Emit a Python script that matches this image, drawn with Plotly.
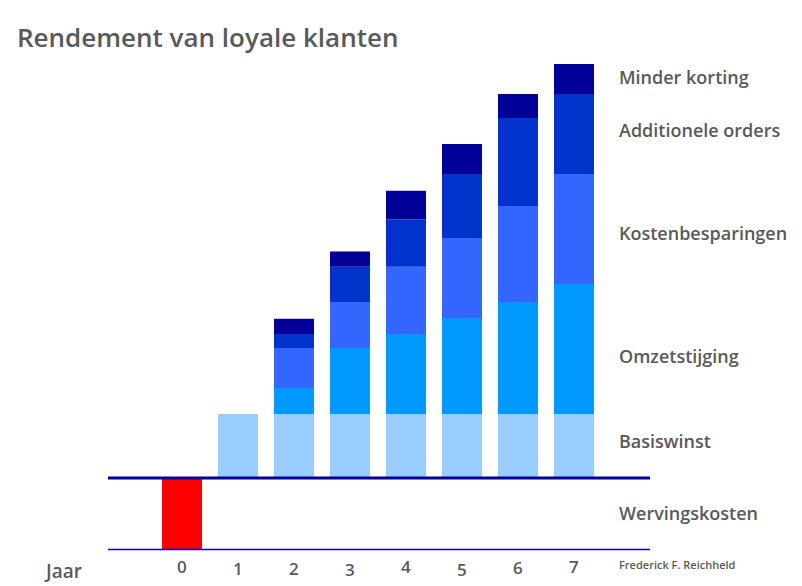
import plotly.graph_objects as go

# Data (arbitrary profit units per year)
jaren = [0, 1, 2, 3, 4, 5, 6, 7]
tick_labels = ["0", "1", "2", "3", "4", "5", "6", "7"]
wervingskosten = [-9, 0, 0, 0, 0, 0, 0, 0]
basiswinst = [0, 8, 8, 8, 8, 8, 8, 8]
omzetstijging = [0, 0, 3.25, 8.25, 10, 12, 14, 16.25]
kostenbesparingen = [0, 0, 5, 5.75, 8.4, 10, 12, 13.75]
additionele_orders = [0, 0, 1.75, 4.4, 5.9, 8, 11, 10]
minder_korting = [0, 0, 1.9, 1.9, 3.6, 3.75, 3, 3.75]

series = [
    ("Wervingskosten", wervingskosten, "#FF0000"),
    ("Basiswinst", basiswinst, "#99CCFF"),
    ("Omzetstijging", omzetstijging, "#0099FF"),
    ("Kostenbesparingen", kostenbesparingen, "#3366FF"),
    ("Additionele orders", additionele_orders, "#0033CC"),
    ("Minder korting", minder_korting, "#000099"),
]

label_y = {
    "Minder korting": 50.1,
    "Additionele orders": 43.5,
    "Kostenbesparingen": 30.6,
    "Omzetstijging": 15.2,
    "Basiswinst": 4.6,
    "Wervingskosten": -4.4,
}
# vertical pixel centres of the (staggered) year labels
tick_py = [566, 568.5, 568, 569, 566, 569, 567, 566]

TXT = "#595959"
FONT = "Open Sans"

PL, PR, PT, PB = 108, 152, 60, 36
PW, PH = 802 - PL - PR, 586 - PT - PB


def px(x):
    return (x - PL) / PW


def py(y):
    return (586 - PB - y) / PH


fig = go.Figure()
for name, vals, col in series:
    fig.add_trace(go.Bar(x=jaren, y=vals, name=name, marker=dict(color=col, line=dict(width=0)),
                         width=0.714, showlegend=False))

fig.update_layout(
    barmode="relative",
    width=802, height=586,
    margin=dict(l=PL, r=PR, t=PT, b=PB),
    paper_bgcolor="white", plot_bgcolor="white",
    xaxis=dict(range=[-1.321, 8.357], showticklabels=False, showgrid=False, zeroline=False,
               showline=False, ticks=""),
    yaxis=dict(range=[-9, 52.25], showticklabels=False, showgrid=False, zeroline=False,
               showline=False, ticks=""),
    font=dict(family=FONT, color=TXT),
)

fig.add_shape(type="line", xref="paper", yref="y", x0=0, x1=1, y0=0, y1=0,
              line=dict(color="#0000A0", width=3), layer="above")
fig.add_shape(type="line", xref="paper", yref="paper", x0=0, x1=1, y0=0.001, y1=0.001,
              line=dict(color="#0000CC", width=1.5), layer="above")

fig.add_annotation(text="Rendement van loyale klanten", xref="paper", yref="paper",
                   x=px(15), y=py(37), xanchor="left", yanchor="middle",
                   showarrow=False, font=dict(size=26, color=TXT, family=FONT, weight=600))

for name, yv in label_y.items():
    fig.add_annotation(text=name, xref="paper", yref="y", x=px(617), y=yv,
                       xanchor="left", yanchor="middle", showarrow=False,
                       font=dict(size=18, color=TXT, family=FONT, weight=600))

for xv, lab, yp in zip(jaren, tick_labels, tick_py):
    fig.add_annotation(text=lab, xref="x", yref="paper", x=xv, y=py(yp),
                       xanchor="center", yanchor="middle", showarrow=False,
                       font=dict(size=17, color=TXT, family=FONT, weight=600))

fig.add_annotation(text="Jaar", xref="paper", yref="paper", x=px(42), y=py(571),
                   xanchor="left", yanchor="middle", showarrow=False,
                   font=dict(size=19, color=TXT, family=FONT, weight=600))
fig.add_annotation(text="Frederick F. Reichheld", xref="paper", yref="paper", x=px(617), y=py(564),
                   xanchor="left", yanchor="middle", showarrow=False,
                   font=dict(size=11, color=TXT, family=FONT, weight=600))

fig.write_html("out.html")
